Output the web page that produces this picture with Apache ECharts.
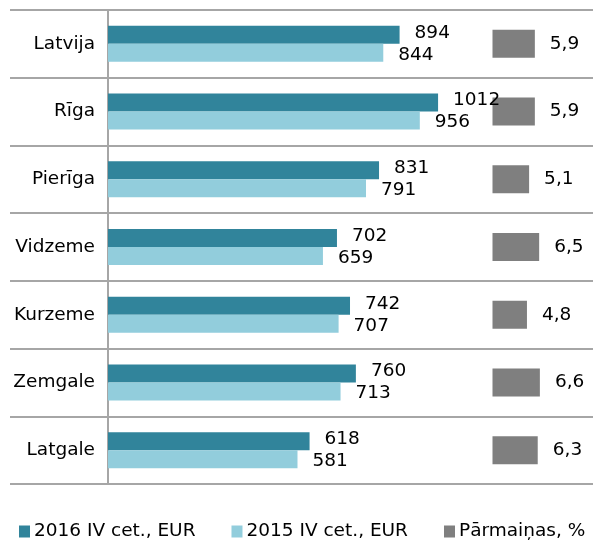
<!DOCTYPE html>
<html lang="lv">
<head>
    <meta charset="UTF-8">
    <title>Vidējā alga reģionos</title>
    <script src="https://cdn.jsdelivr.net/npm/echarts@6/dist/echarts.min.js"></script>
    <style>
        html, body { margin: 0; padding: 0; background: #fff; }
        #main { width: 593px; height: 540px; }
    </style>
</head>
<body>
<div id="main"></div>
<script>
    var regioni = ['Latvija', 'Rīga', 'Pierīga', 'Vidzeme', 'Kurzeme', 'Zemgale', 'Latgale'];
    var alga2016 = [894, 1012, 831, 702, 742, 760, 618];
    var alga2015 = [844, 956, 791, 659, 707, 713, 581];
    var parmainas = [5.9, 5.9, 5.1, 6.5, 4.8, 6.6, 6.3];

    var pelēks = '#a6a6a6';
    var teksts = { color: '#000', fontSize: 18.5, fontFamily: 'DejaVu Sans' };

    var myChart = echarts.init(document.getElementById('main'));
    var option = {
        animation: false,
        textStyle: { fontFamily: 'DejaVu Sans' },
        legend: {
            left: 19,
            top: 522,
            padding: 0,
            itemWidth: 11,
            itemHeight: 12,
            itemGap: 36,
            icon: 'rect',
            textStyle: { color: '#000', fontSize: 18.5, fontFamily: 'DejaVu Sans', padding: [0, 0, 0, -1] },
            data: ['2016 IV cet., EUR', '2015 IV cet., EUR', 'Pārmaiņas, %']
        },
        grid: [
            { left: 108, right: 0, top: 10, bottom: 56 },
            { left: 492.5, right: 0, top: 10, bottom: 56 }
        ],
        xAxis: [
            { gridIndex: 0, type: 'value', min: 0, max: 1487, show: false },
            { gridIndex: 1, type: 'value', min: 0, max: 14, show: false }
        ],
        yAxis: [
            {
                gridIndex: 0, type: 'category', inverse: true, data: regioni,
                axisLine: { show: true, lineStyle: { color: pelēks, width: 2 } },
                axisTick: { show: true, length: 98, lineStyle: { color: pelēks, width: 2 } },
                splitLine: { show: true, lineStyle: { color: pelēks, width: 2 } },
                axisLabel: { margin: 13, color: '#000', fontSize: 18.5, fontFamily: 'DejaVu Sans' }
            },
            {
                gridIndex: 1, type: 'category', inverse: true, data: regioni, show: false
            }
        ],
        series: [
            {
                name: '2016 IV cet., EUR', type: 'bar', xAxisIndex: 0, yAxisIndex: 0,
                data: alga2016, barWidth: 18, barGap: '0%',
                itemStyle: { color: '#31849b' },
                label: Object.assign({ show: true, position: 'right', distance: 15, offset: [0, -2] }, teksts)
            },
            {
                name: '2015 IV cet., EUR', type: 'bar', xAxisIndex: 0, yAxisIndex: 0,
                data: alga2015, barWidth: 18, barGap: '0%',
                itemStyle: { color: '#92cddc' },
                label: Object.assign({ show: true, position: 'right', distance: 15, offset: [0, 2] }, teksts)
            },
            {
                name: 'Pārmaiņas, %', type: 'bar', xAxisIndex: 1, yAxisIndex: 1,
                data: parmainas, barWidth: 28,
                itemStyle: { color: '#7f7f7f' },
                label: Object.assign({
                    show: true, position: 'right', distance: 15,
                    formatter: function (p) { return p.value.toFixed(1).replace('.', ','); }
                }, teksts)
            }
        ]
    };
    myChart.setOption(option);
</script>
</body>
</html>
